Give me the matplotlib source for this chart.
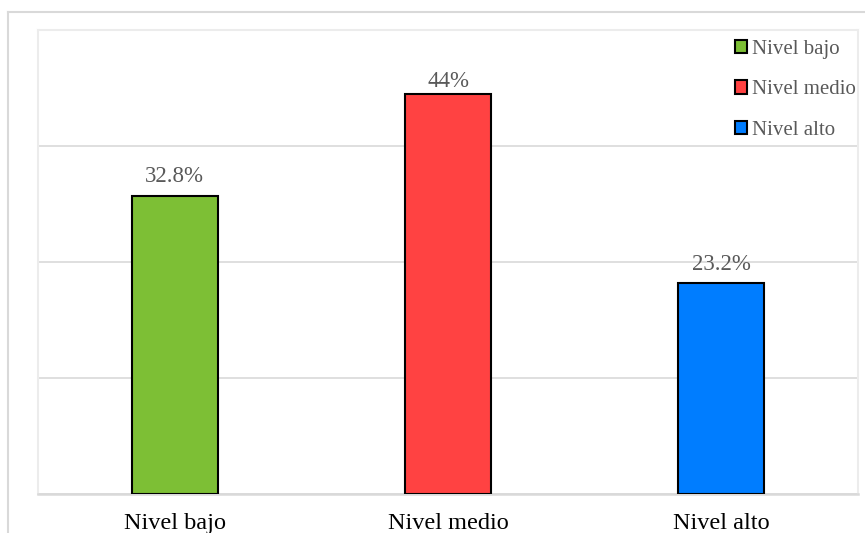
import matplotlib.pyplot as plt
from matplotlib.lines import Line2D
from matplotlib.patches import Patch
import numpy as np

# Distribución por nivel (%)
niveles = ['Nivel bajo', 'Nivel medio', 'Nivel alto']
porcentajes = [32.8, 44, 23.2]
etiquetas = ['32.8%', '44%', '23.2%']
colores = ['#7dbf35', '#ff4242', '#007dff']

plt.rcParams['font.family'] = ['Liberation Serif', 'DejaVu Serif']

fig = plt.figure(figsize=(8.65, 5.33), dpi=100)
W, H = 865, 533

# marco exterior del gráfico
fig.add_artist(Line2D([8 / W, 8 / W], [0, 1 - 12 / H], color='#d9d9d9', lw=1.5, transform=fig.transFigure))
fig.add_artist(Line2D([8 / W, 1], [1 - 12 / H, 1 - 12 / H], color='#d9d9d9', lw=1.5, transform=fig.transFigure))

ax = fig.add_axes([38 / W, (H - 494) / H, 820 / W, 464 / H])

x = np.arange(len(niveles))
bars = ax.bar(x, porcentajes, width=0.315, color=colores, edgecolor='black', linewidth=1.5, zorder=3)

# separación (en puntos) entre la barra y su etiqueta; la más alta queda más pegada
sep = [6, 1, 6]
for b, txt, s in zip(bars, etiquetas, sep):
    ax.annotate(txt, (b.get_x() + b.get_width() / 2, b.get_height()),
                xytext=(0, s), textcoords='offset points',
                ha='center', va='bottom', fontsize=16.5, color='#595959')

ymax = 51.0
ax.set_xlim(-0.5, 2.5)
ax.set_ylim(0, ymax)
ax.set_yticks(np.linspace(0, ymax, 5))
ax.set_yticklabels([])
ax.tick_params(axis='y', length=0)
ax.grid(axis='y', color='#d9d9d9', linewidth=1.2, zorder=0)

ax.set_xticks(x)
ax.set_xticklabels(niveles, fontsize=17.5, color='black')
ax.tick_params(axis='x', length=0, pad=14)

for side in ['left', 'top', 'right']:
    ax.spines[side].set_color('#ececec')
    ax.spines[side].set_linewidth(1.5)
ax.spines['bottom'].set_color('#d9d9d9')
ax.spines['bottom'].set_linewidth(1.8)

handles = [Patch(facecolor=c, edgecolor='black', linewidth=1.5) for c in colores]
leg = ax.legend(handles, niveles, loc='upper right', frameon=False,
                fontsize=15, handlelength=0.6, handleheight=0.6, handletextpad=0.25,
                labelspacing=1.02, borderaxespad=0.0, borderpad=0.0,
                bbox_to_anchor=(0.998, 0.978))
for t in leg.get_texts():
    t.set_color('#595959')

fig.savefig('out.png', dpi=100)
